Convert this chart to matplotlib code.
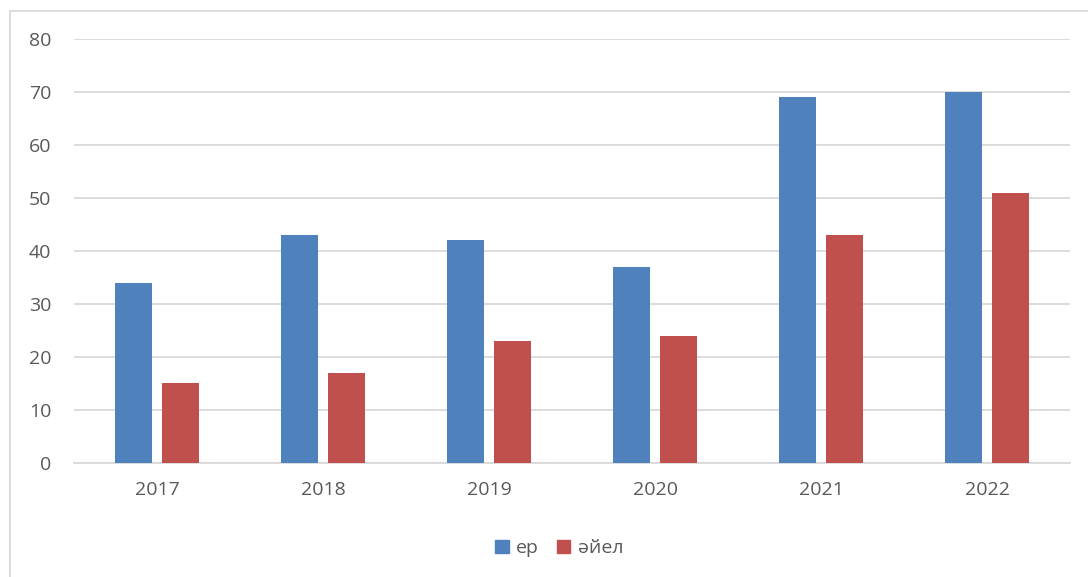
import matplotlib
matplotlib.use("Agg")
import matplotlib.pyplot as plt
from matplotlib.lines import Line2D
from matplotlib.patches import Patch
import numpy as np

years = ["2017", "2018", "2019", "2020", "2021", "2022"]
er = [34, 43, 42, 37, 69, 70]
aiel = [15, 17, 23, 24, 43, 51]
series_labels = ["ер", "әйел"]
colors = ["#4F81BD", "#C0504D"]
text_color = "#595959"
grid_color = "#D9D9D9"

plt.rcParams["font.family"] = ["Open Sans", "DejaVu Sans"]

fig = plt.figure(figsize=(10.88, 5.77), dpi=100)
ax = fig.add_axes([0.068, 0.1976, 0.9155, 0.7348])

x = np.arange(len(years))
w = 0.225
off = 0.142
ax.bar(x - off, er, width=w, color=colors[0], zorder=3, label=series_labels[0])
ax.bar(x + off, aiel, width=w, color=colors[1], zorder=3, label=series_labels[1])

ax.set_xlim(-0.5, len(years) - 0.5)
ax.set_ylim(0, 80)
ax.set_yticks(range(0, 81, 10))
ax.set_xticks(x)
ax.set_xticklabels(years)
ax.yaxis.grid(True, color=grid_color, linewidth=1.3, zorder=0)
ax.set_axisbelow(True)
for s in ["top", "right", "left"]:
    ax.spines[s].set_visible(False)
ax.spines["bottom"].set_color(grid_color)
ax.spines["bottom"].set_linewidth(1.3)
ax.tick_params(axis="both", length=0, labelsize=14, labelcolor=text_color)
ax.tick_params(axis="y", pad=16.5)
ax.tick_params(axis="x", pad=13)

# chart frame
frame_x = 10 / 1088
frame_y = 1 - 11 / 577
fig.add_artist(Line2D([frame_x, frame_x], [0, frame_y], transform=fig.transFigure,
                      color=grid_color, linewidth=1.3))
fig.add_artist(Line2D([frame_x, 1], [frame_y, frame_y], transform=fig.transFigure,
                      color=grid_color, linewidth=1.3))

handles = [Patch(color=c) for c in colors]
fig.legend(handles, series_labels, loc="center", bbox_to_anchor=(0.514, 0.05),
           ncol=2, frameon=False, fontsize=14, labelcolor=text_color,
           handlelength=0.7, handleheight=0.7, handletextpad=0.4, columnspacing=0.9)

fig.savefig("out.png", dpi=100)
